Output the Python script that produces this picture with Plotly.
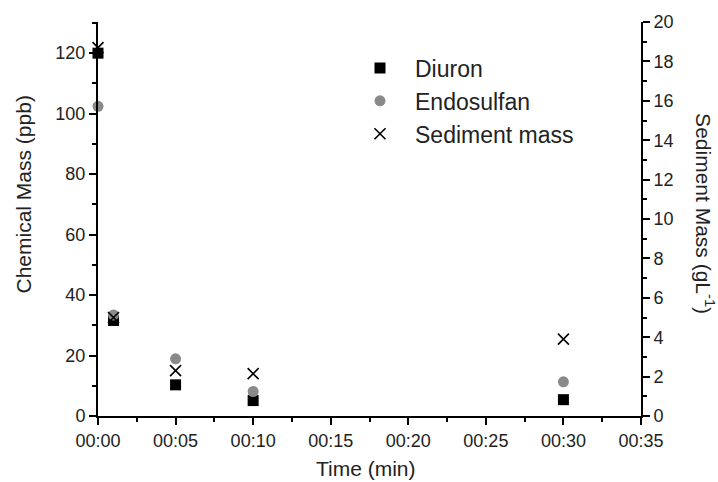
import plotly.graph_objects as go

time_min = [0, 1, 5, 10, 30]
diuron = [120, 31.6, 10.3, 5.1, 5.4]
endosulfan = [102.4, 33.4, 18.9, 8.1, 11.3]
sediment = [18.7, 5.0, 2.3, 2.15, 3.9]

x_tickvals = [0, 5, 10, 15, 20, 25, 30, 35]
x_ticktext = ["00:00", "00:05", "00:10", "00:15", "00:20", "00:25", "00:30", "00:35"]

FONT = "Liberation Sans, Arial, Helvetica, sans-serif"
W, H = 718, 482
L, R, T, B = 98, 77, 14, 66
PW, PH = W - L - R, H - T - B

fig = go.Figure()
fig.add_trace(go.Scatter(x=time_min, y=diuron, mode="markers", name="Diuron",
                         marker=dict(symbol="square", size=11, color="black"),
                         cliponaxis=False))
fig.add_trace(go.Scatter(x=time_min, y=endosulfan, mode="markers", name="Endosulfan",
                         marker=dict(symbol="circle", size=11, color="#8a8a8a"),
                         cliponaxis=False))
fig.add_trace(go.Scatter(x=time_min, y=sediment, mode="markers", name="Sediment mass",
                         yaxis="y2",
                         marker=dict(symbol="x-thin", size=11, color="black",
                                     line=dict(width=1.6, color="black")),
                         cliponaxis=False))

axis_common = dict(showgrid=False, zeroline=False, showline=True, linecolor="black",
                   linewidth=2, ticks="outside", ticklen=7, tickwidth=2, tickcolor="black",
                   tickfont=dict(size=18, color="#222", family=FONT))

fig.update_layout(
    width=W, height=H,
    margin=dict(l=L, r=R, t=T, b=B),
    paper_bgcolor="white", plot_bgcolor="white",
    font=dict(family=FONT, color="#222"),
    xaxis=dict(range=[0, 35], tickvals=x_tickvals, ticktext=x_ticktext,
               minor=dict(dtick=2.5, tick0=0, ticks="outside", ticklen=4, tickwidth=2,
                          tickcolor="black"),
               **axis_common),
    yaxis=dict(range=[0, 130.3], tickvals=[0, 20, 40, 60, 80, 100, 120],
               minor=dict(dtick=10, tick0=0, ticks="outside", ticklen=4, tickwidth=2,
                          tickcolor="black"),
               **axis_common),
    yaxis2=dict(range=[0, 20], overlaying="y", side="right", anchor="x",
                tickvals=list(range(0, 21, 2)),
                minor=dict(dtick=1, tick0=0, ticks="outside", ticklen=4, tickwidth=2,
                           tickcolor="black"),
                **axis_common),
    showlegend=True,
    legend=dict(x=(345 - L) / PW, y=(H - B - 39) / PH, xanchor="left", yanchor="top",
                itemwidth=60, bgcolor="rgba(0,0,0,0)",
                font=dict(size=23, family=FONT, color="#222")),
)

title_font = dict(size=21, family=FONT, color="#222")
fig.add_annotation(text="Time (min)", x=(366 - L) / PW, xref="paper",
                   y=-(470 - (H - B)) / PH, yref="paper",
                   xanchor="center", yanchor="middle", showarrow=False, font=title_font)
fig.add_annotation(text="Chemical Mass (ppb)", textangle=-90,
                   x=-(L - 23) / PW, xref="paper", y=((H - B) - 190) / PH, yref="paper",
                   xanchor="center", yanchor="middle", showarrow=False, font=title_font)
fig.add_annotation(text="Sediment Mass (gL<sup>-1</sup>)", textangle=90,
                   x=1 + (705 - (W - R)) / PW, xref="paper", y=((H - B) - 209) / PH,
                   yref="paper", xanchor="center", yanchor="middle", showarrow=False,
                   font=title_font)

fig.write_html("out.html", config={"displayModeBar": False},
               post_script="document.body.style.margin='0';")
